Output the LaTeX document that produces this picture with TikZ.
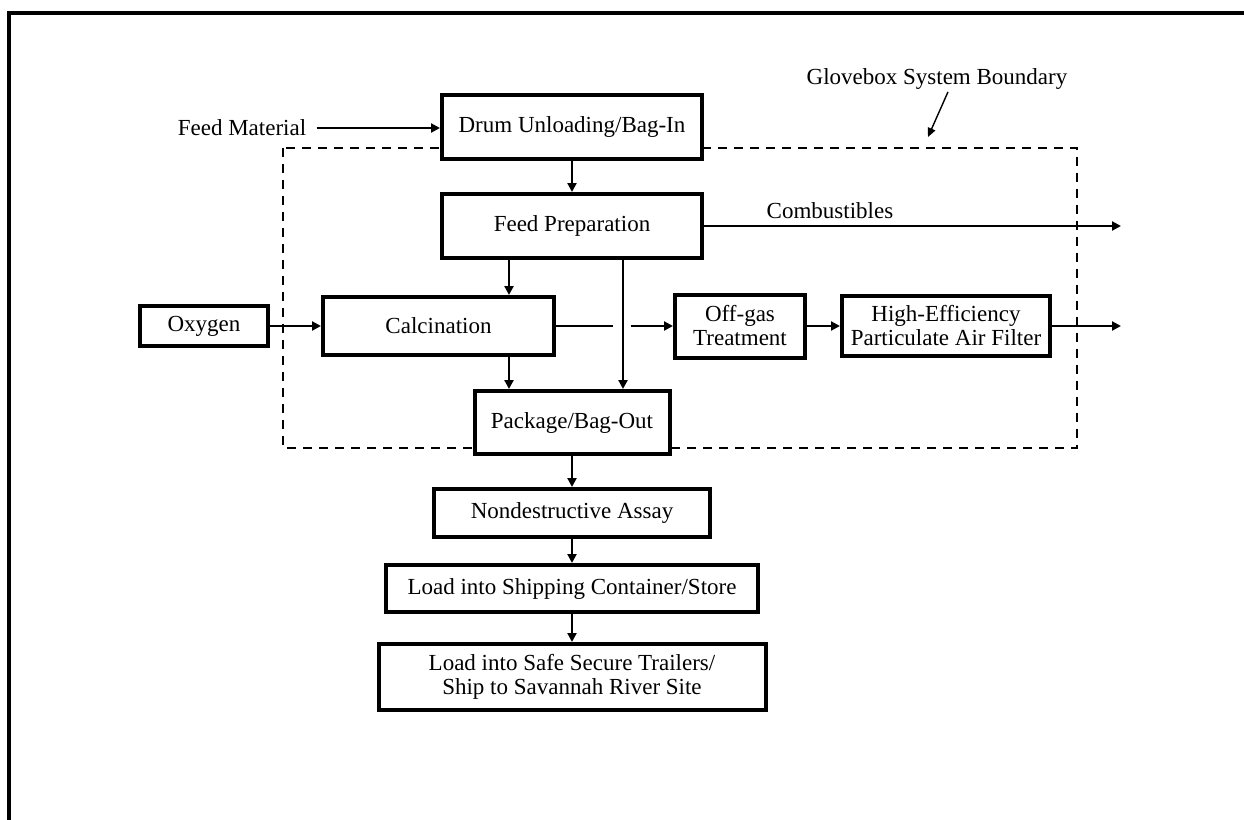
\documentclass[tikz,border=0pt]{standalone}
\usepackage{fontspec}
\setmainfont{Liberation Serif}
\usetikzlibrary{arrows.meta, positioning, calc}

\begin{document}
\begin{tikzpicture}[x=0.5pt, y=-0.5pt,
  box/.style={rectangle, draw, line width=2pt, fill=white, inner sep=2pt,
  font=\fontsize{11.5}{12}\selectfont, align=center},
  lbl/.style={font=\fontsize{11.5}{12}\selectfont, inner sep=1pt},
  flow/.style={line width=1.1pt, -{Triangle[length=4.5pt,width=4.5pt]}}]
  \useasboundingbox (0,0) rectangle (1244,820);
  \draw[line width=2pt] (9,820) -- (9,13) -- (1244,13);

  % glovebox boundary
  \draw[line width=1pt, dash pattern=on 4.5pt off 3.5pt] (283,148) rectangle (1077,448);

  \node[box, minimum width=130pt, minimum height=32pt] (drum) at (572,127) {Drum Unloading/Bag-In};
  \node[box, minimum width=130pt, minimum height=32pt] (prep) at (572,226) {Feed Preparation};
  \node[box, minimum width=64pt, minimum height=20pt] (oxy) at (204,326) {Oxygen};
  \node[box, minimum width=115.5pt, minimum height=29pt] (calcn) at (438.5,326) {Calcination};
  \node[box, minimum width=65pt, minimum height=31.5pt] (offgas) at (740,326) {Off-gas\\Treatment};
  \node[box, minimum width=104pt, minimum height=30pt] (hepa) at (946,326) {High-Efficiency\\Particulate Air Filter};
  \node[box, minimum width=97.5pt, minimum height=31.5pt] (pack) at (572,422.5) {Package/Bag-Out};
  \node[box, minimum width=138pt, minimum height=24pt] (nda) at (572,513) {Nondestructive Assay};
  \node[box, minimum width=186pt, minimum height=23.5pt] (store) at (572,588.5) {Load into Shipping Container/Store};
  \node[box, minimum width=193.5pt, minimum height=33pt] (ship) at (572,677) {Load into Safe Secure Trailers/\\Ship to Savannah River Site};

  \node[lbl] (feed) at (242,128) {Feed Material};
  \node[lbl] (comb) at (830,211) {Combustibles};
  \node[lbl] (gbox) at (937,79) {Glovebox System Boundary};

  \coordinate (out) at (1121,0);
  \coordinate (gbtip) at (928,137);
  \coordinate (lx) at (509,0);
  \coordinate (rx) at (623,0);

  \draw[flow] ([xshift=4pt]feed.east) -- (feed.east -| drum.west);
  \draw[flow] (drum) -- (prep);
  \draw[flow] (prep.east) -- (prep.east -| out);
  \draw[flow] (prep.south -| lx) -- (calcn.north -| lx);
  \draw[flow] (calcn.south -| lx) -- (pack.north -| lx);
  \draw[flow] (prep.south -| rx) -- (pack.north -| rx);
  \draw[flow] (oxy) -- (calcn);
  \draw[line width=1.1pt] (calcn.east) -- ($(calcn.east -| rx)+(-10,0)$);
  \draw[flow] ($(calcn.east -| rx)+(8,0)$) -- (offgas.west |- calcn.east);
  \draw[flow] (offgas) -- (hepa);
  \draw[flow] (hepa.east) -- (hepa.east -| out);
  \draw[flow] (pack) -- (nda);
  \draw[flow] (nda) -- (store);
  \draw[flow] (store) -- (ship);
  \draw[line width=0.7pt, -{Triangle[length=4.5pt,width=4pt]}] ([xshift=5.5pt]gbox.south) -- (gbtip);
\end{tikzpicture}
\end{document}
